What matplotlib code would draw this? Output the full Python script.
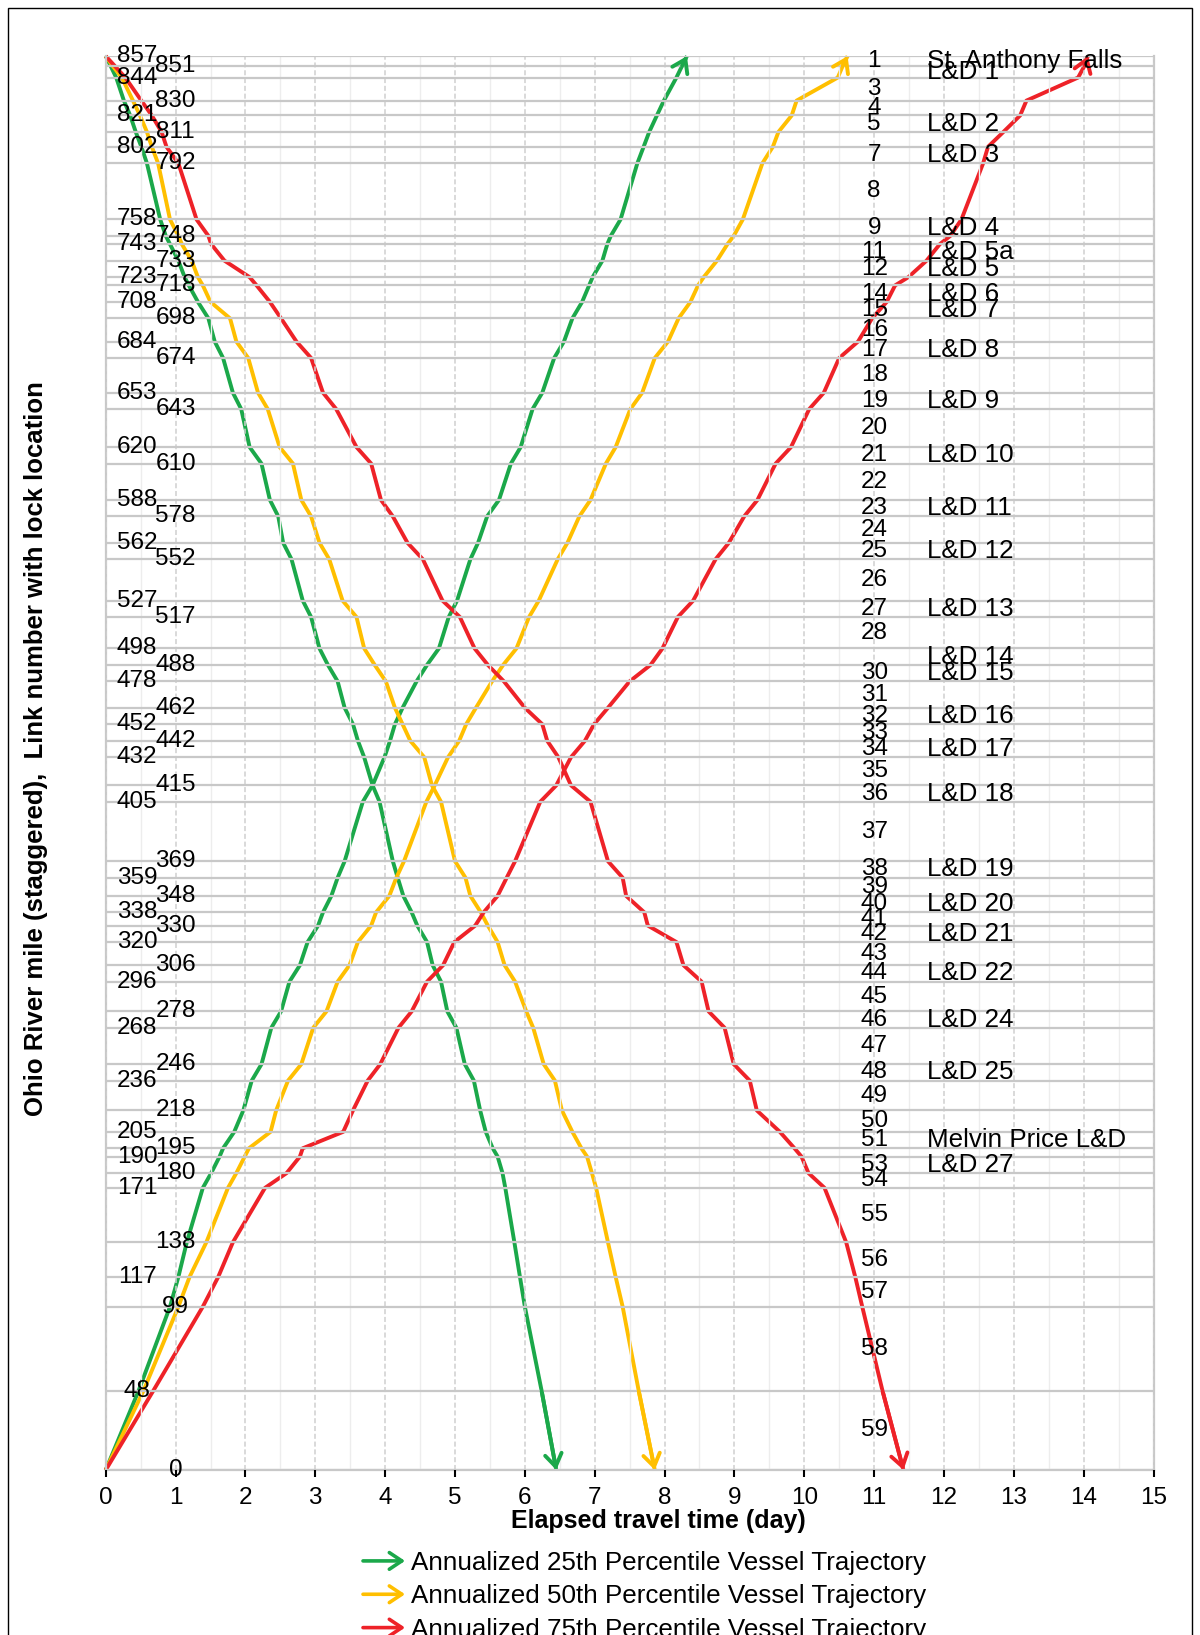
import matplotlib
matplotlib.use('Agg')
import matplotlib.pyplot as plt
from matplotlib.lines import Line2D
from matplotlib.legend_handler import HandlerBase
from matplotlib.patches import FancyArrowPatch, Rectangle
from matplotlib.ticker import MultipleLocator

# river miles of the link boundaries (top = upstream end)
miles = [857, 851, 844, 830, 821, 811, 802, 792, 758, 748, 743, 733, 723, 718,
         708, 698, 684, 674, 653, 643, 620, 610, 588, 578, 562, 552, 527, 517,
         498, 488, 478, 462, 452, 442, 432, 415, 405, 369, 359, 348, 338, 330,
         320, 306, 296, 278, 268, 246, 236, 218, 205, 195, 190, 180, 171, 138,
         117, 99, 48, 0]
miles_up = miles[::-1]

# downstream trajectories (days at each mile, 857 -> 0)
down_25 = [0, 0.07, 0.15, 0.26, 0.35, 0.43, 0.51, 0.59, 0.78, 0.86, 0.92, 1.04,
           1.13, 1.19, 1.32, 1.47, 1.56, 1.68, 1.82, 1.94, 2.06, 2.23, 2.35, 2.47,
           2.54, 2.66, 2.82, 2.94, 3.06, 3.18, 3.32, 3.42, 3.54, 3.61, 3.70, 3.82,
           3.92, 4.11, 4.18, 4.26, 4.38, 4.46, 4.60, 4.68, 4.80, 4.89, 5.02, 5.14,
           5.27, 5.36, 5.44, 5.54, 5.61, 5.68, 5.72, 5.85, 5.93, 6.00, 6.24, 6.45]
down_50 = [0, 0.10, 0.23, 0.39, 0.49, 0.59, 0.66, 0.75, 0.92, 1.04, 1.09, 1.23,
           1.32, 1.39, 1.50, 1.78, 1.87, 2.04, 2.18, 2.32, 2.49, 2.68, 2.80, 2.94,
           3.06, 3.20, 3.39, 3.59, 3.70, 3.85, 4.01, 4.14, 4.25, 4.36, 4.56, 4.67,
           4.80, 5.00, 5.15, 5.22, 5.37, 5.47, 5.61, 5.71, 5.86, 6.02, 6.12, 6.27,
           6.43, 6.53, 6.68, 6.81, 6.89, 6.96, 7.02, 7.19, 7.30, 7.40, 7.63, 7.86]
down_75 = [0, 0.13, 0.28, 0.51, 0.66, 0.80, 0.87, 1.04, 1.30, 1.47, 1.51, 1.70,
           2.06, 2.16, 2.35, 2.51, 2.73, 2.94, 3.11, 3.30, 3.59, 3.80, 3.94, 4.11,
           4.32, 4.54, 4.82, 5.07, 5.28, 5.47, 5.70, 6.00, 6.25, 6.32, 6.48, 6.66,
           6.94, 7.19, 7.40, 7.45, 7.71, 7.76, 8.17, 8.27, 8.53, 8.63, 8.86, 8.99,
           9.22, 9.32, 9.65, 9.86, 9.96, 10.06, 10.29, 10.60, 10.73, 10.83, 11.12, 11.42]

# upstream trajectories (days at each mile, 0 -> 857)
up_25 = [0, 0.47, 0.92, 1.04, 1.16, 1.39, 1.51, 1.63, 1.68, 1.84, 1.97, 2.09,
         2.23, 2.37, 2.51, 2.63, 2.78, 2.89, 3.04, 3.11, 3.23, 3.32, 3.42, 3.68,
         3.82, 3.99, 4.07, 4.14, 4.25, 4.45, 4.60, 4.77, 4.91, 5.03, 5.22, 5.33,
         5.46, 5.63, 5.80, 5.94, 6.11, 6.25, 6.42, 6.56, 6.68, 6.82, 6.92, 6.97,
         7.11, 7.18, 7.23, 7.37, 7.61, 7.70, 7.78, 7.89, 7.99, 8.17, 8.25, 8.32]
up_50 = [0, 0.54, 1.04, 1.20, 1.44, 1.75, 1.87, 1.99, 2.05, 2.36, 2.44, 2.61,
         2.80, 2.97, 3.16, 3.32, 3.49, 3.61, 3.80, 3.87, 4.06, 4.16, 4.27, 4.59,
         4.71, 4.90, 5.06, 5.16, 5.30, 5.53, 5.69, 5.88, 6.06, 6.20, 6.47, 6.61,
         6.78, 6.94, 7.16, 7.30, 7.51, 7.68, 7.86, 8.05, 8.20, 8.37, 8.48, 8.56,
         8.75, 8.90, 8.99, 9.12, 9.40, 9.55, 9.63, 9.82, 9.89, 10.48, 10.55, 10.62]
up_75 = [0, 0.68, 1.39, 1.61, 1.82, 2.28, 2.59, 2.78, 2.82, 3.40, 3.54, 3.75,
         3.93, 4.19, 4.38, 4.60, 4.83, 4.99, 5.29, 5.41, 5.61, 5.74, 5.86, 6.22,
         6.45, 6.66, 6.86, 6.99, 7.19, 7.50, 7.80, 7.97, 8.19, 8.41, 8.73, 8.92,
         9.14, 9.33, 9.59, 9.81, 10.07, 10.28, 10.50, 10.77, 10.97, 11.18, 11.30, 11.49,
         11.75, 11.94, 12.09, 12.25, 12.56, 12.63, 12.85, 13.09, 13.18, 13.92, 14.01, 14.06]

# link numbers shown on the right, and the locks that sit on them
link_numbers = [1, 3, 4, 5, 7, 8, 9, 11, 12, 14, 15, 16, 17, 18, 19, 20, 21, 22,
                23, 24, 25, 26, 27, 28, 30, 31, 32, 33, 34, 35, 36, 37, 38, 39,
                40, 41, 42, 43, 44, 45, 46, 47, 48, 49, 50, 51, 53, 54, 55, 56,
                57, 58, 59]
lock_links = [1, 2, 5, 7, 9, 11, 12, 14, 15, 17, 19, 21, 23, 25, 27, 29, 30, 32,
              34, 36, 38, 40, 42, 44, 46, 48, 51, 53]
lock_names = ['St. Anthony Falls', 'L&D 1', 'L&D 2', 'L&D 3', 'L&D 4', 'L&D 5a',
              'L&D 5', 'L&D 6', 'L&D 7', 'L&D 8', 'L&D 9', 'L&D 10', 'L&D 11',
              'L&D 12', 'L&D 13', 'L&D 14', 'L&D 15', 'L&D 16', 'L&D 17', 'L&D 18',
              'L&D 19', 'L&D 20', 'L&D 21', 'L&D 22', 'L&D 24', 'L&D 25',
              'Melvin Price L&D', 'L&D 27']

series_labels = ['Annualized 25th Percentile Vessel Trajectory',
                 'Annualized 50th Percentile Vessel Trajectory',
                 'Annualized 75th Percentile Vessel Trajectory']
colors = ['#1BA84A', '#FFBF00', '#EE2228']


class ArrowHandler(HandlerBase):
    def create_artists(self, legend, orig_handle, xdescent, ydescent,
                       width, height, fontsize, trans):
        y = height / 2 - ydescent
        arr = FancyArrowPatch((-xdescent, y), (width - xdescent, y),
                              arrowstyle='->,head_length=0.45,head_width=0.3',
                              mutation_scale=20, color=orig_handle.get_color(),
                              lw=2.6, shrinkA=0, shrinkB=0, transform=trans)
        return [arr]


def link_mid(k):
    return (miles[k - 1] + miles[k]) / 2


def main():
    plt.rcParams['font.family'] = ['Liberation Sans', 'DejaVu Sans']
    fig = plt.figure(figsize=(12, 16.35), dpi=100)
    ax = fig.add_axes([0.0881, 0.1009, 0.8732, 0.8648])

    handles = []
    for d, u, c in zip([down_25, down_50, down_75], [up_25, up_50, up_75], colors):
        ax.plot(d, miles, color=c, lw=2.8, clip_on=False, solid_capstyle='butt')
        h, = ax.plot(u, miles_up, color=c, lw=2.8, clip_on=False, solid_capstyle='butt')
        handles.append(h)
        arrow = dict(arrowstyle='->,head_length=0.45,head_width=0.3', color=c,
                     lw=2.8, shrinkA=0, shrinkB=0, mutation_scale=20)
        ax.annotate('', xy=(d[-1], miles[-1]), xytext=(d[-2], miles[-2]),
                    arrowprops=arrow, annotation_clip=False)
        ax.annotate('', xy=(u[-1], miles_up[-1]), xytext=(u[-2], miles_up[-2]),
                    arrowprops=arrow, annotation_clip=False)

    ax.set_xlim(0, 15)
    ax.set_ylim(0, 857)
    ax.set_xticks(range(16))
    ax.xaxis.set_minor_locator(MultipleLocator(0.5))
    ax.set_yticks(miles)
    ax.set_yticklabels([])
    ax.tick_params(axis='y', length=0)
    ax.tick_params(axis='x', which='major', direction='out', length=5, width=1.5,
                   color='black', labelsize=17.5, pad=7)
    ax.tick_params(axis='x', which='minor', length=0)

    ax.set_axisbelow(False)
    ax.grid(axis='y', color='#C8C8C8', lw=1.6, ls='-')
    ax.grid(axis='x', which='major', color='#CFCFCF', lw=1.1, ls=(0, (3.3, 1.8)))
    ax.grid(axis='x', which='minor', color='#EDEDED', lw=1.0, ls='-')
    for side in ['left', 'right', 'bottom']:
        ax.spines[side].set_color('#C8C8C8')
        ax.spines[side].set_linewidth(1.6)
    ax.spines['top'].set_visible(False)

    # staggered river mile labels
    for i, m in enumerate(miles):
        xpos = 0.45 if i % 2 == 0 else 1.0
        ax.text(xpos, m, str(m), ha='center', va='center', fontsize=17.5, zorder=5)

    for k in link_numbers:
        ax.text(11.0, link_mid(k), str(k), ha='center', va='center', fontsize=17.5, zorder=5)
    for k, name in zip(lock_links, lock_names):
        ax.text(11.75, link_mid(k), name, ha='left', va='center', fontsize=18.7, zorder=5)

    fig.text(658.6 / 1200, 1 - 1521 / 1635, 'Elapsed travel time (day)',
             ha='center', va='center', fontsize=18, fontweight='bold')
    fig.text(36.5 / 1200, 1 - 749 / 1635,
             'Ohio River mile (staggered),  Link number with lock location',
             ha='center', va='center', rotation=90, fontsize=18.5, fontweight='bold')

    fig.legend(handles, series_labels, handler_map={Line2D: ArrowHandler()},
               loc='upper left', bbox_to_anchor=(363 / 1200, 1 - 1551 / 1635),
               frameon=False, fontsize=18.7, handlelength=1.62, handletextpad=0.24,
               labelspacing=0.36, borderpad=0, borderaxespad=0)

    fig.patches.append(Rectangle((8 / 1200, -0.05), 1184 / 1200, 1.05 - 8 / 1635,
                                 transform=fig.transFigure, fill=False,
                                 edgecolor='black', lw=1.0))

    fig.savefig('out.png', dpi=100)


if __name__ == "__main__":
    main()
